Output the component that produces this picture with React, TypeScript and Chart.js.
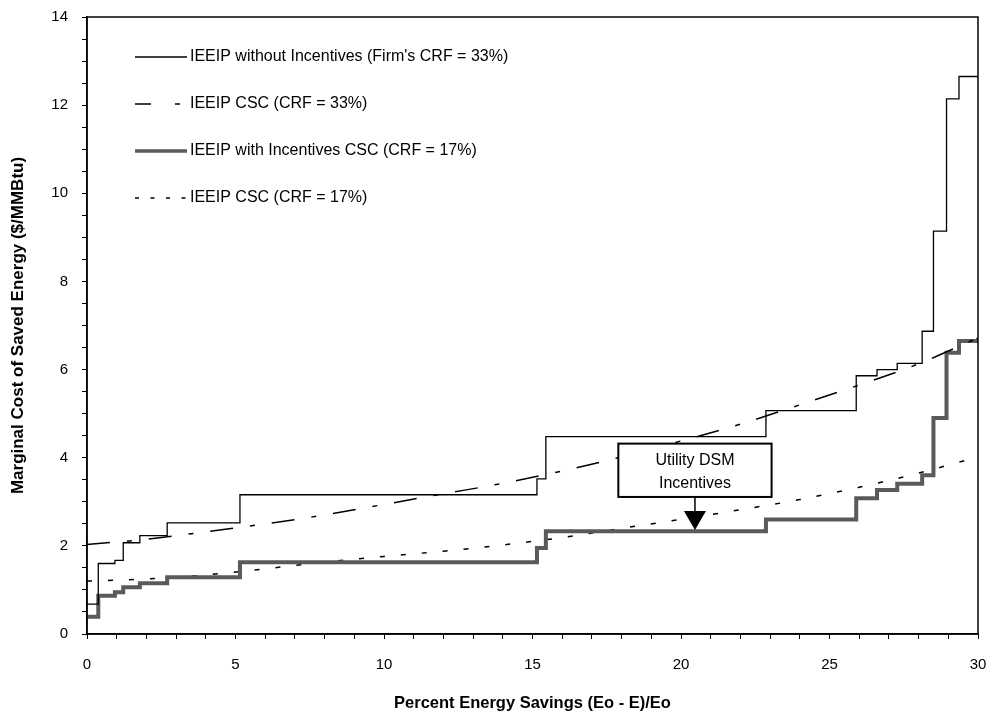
import React, { useEffect, useRef } from 'react';
import { Chart, registerables } from 'chart.js';

Chart.register(...registerables);

// ---- data ----
const stepX = [0, 0.38, 0.94, 1.22, 1.78, 2.7, 5.15, 15.15, 15.45, 22.86, 25.9, 26.6, 27.28, 28.12, 28.5, 28.94, 29.36, 30];
const withoutIncentives33 = [0.68, 1.6, 1.67, 2.07, 2.23, 2.52, 3.16, 3.52, 4.48, 5.07, 5.86, 6.0, 6.14, 6.87, 9.14, 12.14, 12.65, 12.65];
const withIncentives17 = [0.39, 0.87, 0.95, 1.06, 1.15, 1.29, 1.63, 1.95, 2.33, 2.6, 3.08, 3.27, 3.41, 3.6, 4.9, 6.38, 6.65, 6.72];

const cscX = [0, 2, 4, 6, 8, 10, 12, 14, 16, 18, 20, 22, 24, 26, 28, 30];
const csc33 = [2.03, 2.15, 2.32, 2.5, 2.7, 2.94, 3.18, 3.42, 3.7, 4.02, 4.38, 4.76, 5.2, 5.65, 6.13, 6.72];
const csc17 = [1.2, 1.25, 1.34, 1.48, 1.63, 1.76, 1.88, 2.02, 2.19, 2.4, 2.6, 2.82, 3.05, 3.33, 3.65, 4.02];

const xLabelEvery = 5;
const yLabelEvery = 2;

const seriesNames = [
  "IEEIP without Incentives (Firm's CRF = 33%)",
  'IEEIP CSC (CRF = 33%)',
  'IEEIP with Incentives CSC (CRF = 17%)',
  'IEEIP CSC (CRF = 17%)',
];
const annotationText = ['Utility DSM', 'Incentives'];
const annotationPoint = { x: 20.47, y: 2.36 };

const xTitle = 'Percent Energy Savings (Eo - E)/Eo';
const yTitle = 'Marginal Cost of Saved Energy ($/MMBtu)';

// ---- styles ----
const FONT = '"Liberation Sans", Arial, Helvetica, sans-serif';
const THICK = '#5a5a5a';
const styles = [
  { color: '#000', width: 1.3, dash: [] as number[], legendDash: [] as number[] },
  { color: '#000', width: 1.5, dash: [23, 17, 5, 17], legendDash: [16, 24, 5, 40] },
  { color: THICK, width: 4, dash: [] as number[], legendDash: [] as number[] },
  { color: '#000', width: 1.5, dash: [5, 16], legendDash: [4, 11.5] },
];

const overlayPlugin = {
  id: 'overlay',
  afterDatasetsDraw(chart: any) {
    const { ctx, chartArea: a, scales } = chart;
    const xs = scales.x;
    const ys = scales.y;
    ctx.save();
    // frame
    ctx.strokeStyle = '#000';
    ctx.lineWidth = 1.5;
    ctx.setLineDash([]);
    ctx.strokeRect(a.left, a.top, a.right - a.left, a.bottom - a.top);

    // legend
    const rowY = [57, 104, 151, 198];
    ctx.font = `16px ${FONT}`;
    ctx.textBaseline = 'middle';
    ctx.textAlign = 'left';
    seriesNames.forEach((name, i) => {
      const st = styles[i];
      ctx.beginPath();
      ctx.strokeStyle = st.color;
      ctx.lineWidth = i === 2 ? 3.5 : 1.3;
      ctx.setLineDash(st.legendDash);
      ctx.moveTo(135, rowY[i]);
      ctx.lineTo(187, rowY[i]);
      ctx.stroke();
      ctx.setLineDash([]);
      ctx.fillStyle = '#000';
      ctx.fillText(name, 190, rowY[i]);
    });

    // annotation box
    const bx1 = xs.getPixelForValue(17.89);
    const bx2 = xs.getPixelForValue(23.05);
    const by1 = ys.getPixelForValue(4.32);
    const by2 = ys.getPixelForValue(3.11);
    const tipX = xs.getPixelForValue(annotationPoint.x);
    const tipY = ys.getPixelForValue(annotationPoint.y);
    ctx.fillStyle = '#fff';
    ctx.fillRect(bx1, by1, bx2 - bx1, by2 - by1);
    ctx.strokeStyle = '#000';
    ctx.lineWidth = 2;
    ctx.strokeRect(bx1, by1, bx2 - bx1, by2 - by1);
    ctx.fillStyle = '#000';
    ctx.textAlign = 'center';
    ctx.font = `16px ${FONT}`;
    const cx = (bx1 + bx2) / 2;
    ctx.fillText(annotationText[0], cx, by1 + 17);
    ctx.fillText(annotationText[1], cx, by1 + 40);
    // arrow
    const triTop = tipY - 19;
    ctx.lineWidth = 1.5;
    ctx.beginPath();
    ctx.moveTo(tipX, by2);
    ctx.lineTo(tipX, triTop);
    ctx.stroke();
    ctx.beginPath();
    ctx.moveTo(tipX - 11, triTop);
    ctx.lineTo(tipX + 11, triTop);
    ctx.lineTo(tipX, tipY);
    ctx.closePath();
    ctx.fill();
    ctx.restore();
  },
};

export default function App() {
  const ref = useRef<HTMLCanvasElement | null>(null);

  useEffect(() => {
    document.body.style.margin = '0';
    const canvas = ref.current;
    if (!canvas) return;
    const mk = (xv: number[], yv: number[]) => xv.map((x, i) => ({ x, y: yv[i] }));
    const chart = new Chart(canvas, {
      type: 'line',
      data: {
        datasets: [
          {
            label: seriesNames[0],
            data: mk(stepX, withoutIncentives33),
            stepped: 'before',
            borderColor: styles[0].color,
            borderWidth: styles[0].width,
            pointRadius: 0,
            fill: false,
          },
          {
            label: seriesNames[1],
            data: mk(cscX, csc33),
            borderColor: styles[1].color,
            borderWidth: styles[1].width,
            borderDash: styles[1].dash,
            cubicInterpolationMode: 'monotone',
            pointRadius: 0,
            fill: false,
          },
          {
            label: seriesNames[2],
            data: mk(stepX, withIncentives17),
            stepped: 'before',
            borderColor: styles[2].color,
            borderWidth: styles[2].width,
            pointRadius: 0,
            fill: false,
          },
          {
            label: seriesNames[3],
            data: mk(cscX, csc17),
            borderColor: styles[3].color,
            borderWidth: styles[3].width,
            borderDash: styles[3].dash,
            cubicInterpolationMode: 'monotone',
            pointRadius: 0,
            fill: false,
          },
        ],
      },
      options: {
        responsive: false,
        animation: false,
        devicePixelRatio: 1,
        layout: { padding: { left: 0, right: 13, top: 17, bottom: 0 } },
        plugins: { legend: { display: false }, tooltip: { enabled: false } },
        scales: {
          x: {
            type: 'linear',
            min: 0,
            max: 30,
            afterFit: (s: any) => { s.height = 87; s.paddingLeft = 0; s.paddingRight = 0; },
            ticks: {
              stepSize: 1,
              autoSkip: false,
              maxRotation: 0,
              padding: 17,
              color: '#000',
              font: { family: FONT, size: 15 },
              callback: (v: any) => (Number(v) % xLabelEvery === 0 ? String(v) : ''),
            },
            grid: { drawOnChartArea: false, drawTicks: true, tickLength: 5, color: '#000', lineWidth: 1 },
            border: { display: true, color: '#000', width: 1.5 },
            title: {
              display: true,
              text: xTitle,
              color: '#000',
              font: { family: FONT, size: 16.5, weight: 'bold' },
              padding: { top: 0, bottom: 8 },
            },
          },
          y: {
            type: 'linear',
            min: 0,
            max: 14,
            afterFit: (s: any) => { s.width = 87; s.paddingTop = 0; s.paddingBottom = 0; },
            ticks: {
              stepSize: 0.5,
              autoSkip: false,
              padding: 14,
              color: '#000',
              font: { family: FONT, size: 15 },
              callback: (v: any) => (Number(v) % yLabelEvery === 0 ? String(v) : ''),
            },
            grid: { drawOnChartArea: false, drawTicks: true, tickLength: 5, color: '#000', lineWidth: 1 },
            border: { display: true, color: '#000', width: 1.5 },
            title: {
              display: true,
              text: yTitle,
              color: '#000',
              font: { family: FONT, size: 17, weight: 'bold' },
              padding: { top: 8, bottom: 0 },
            },
          },
        },
      },
      plugins: [overlayPlugin],
    } as any);
    return () => chart.destroy();
  }, []);

  return <canvas ref={ref} width={991} height={721} style={{ display: 'block' }} />;
}
